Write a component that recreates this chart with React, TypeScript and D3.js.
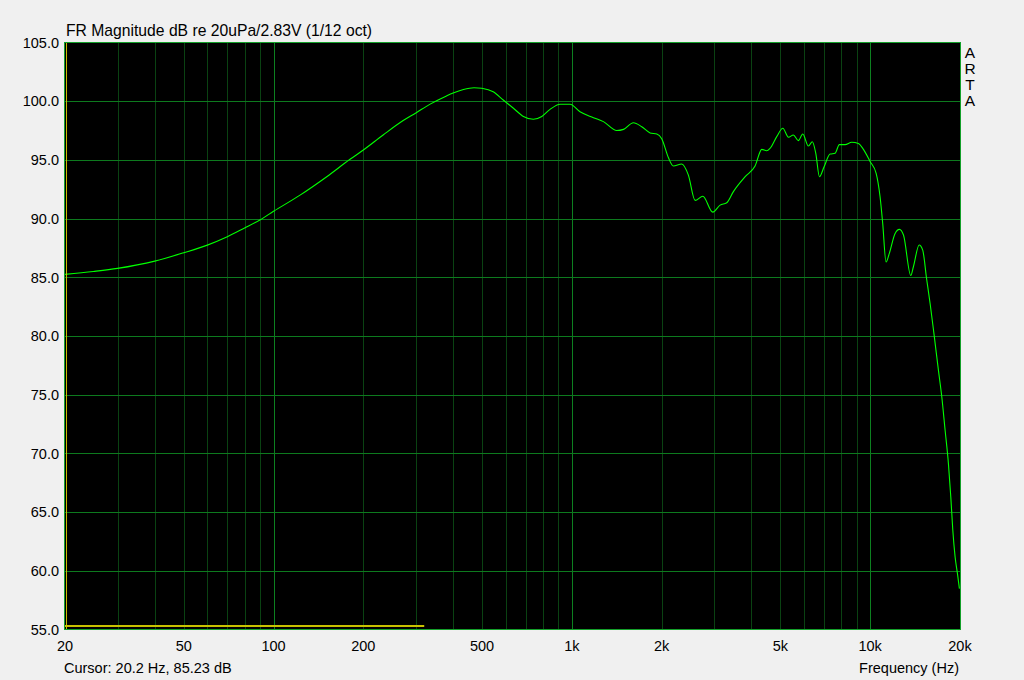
import React from "react";
import * as d3 from "d3";

// Frequency response (Hz, dB SPL)
const freqs = [
  20, 24.9, 30, 40, 50, 60, 70, 80, 90, 100, 122.7, 150.8, 180.5, 200, 233, 272, 300, 335, 380,
  400, 433, 470, 499, 545, 589, 637, 688, 743, 793, 845, 913, 986, 1065, 1181, 1276, 1414,
  1490, 1608, 1715, 1829, 1927, 2001, 2106, 2188, 2335, 2458, 2589, 2748, 2967, 3140, 3305,
  3479, 3810, 4112, 4333, 4495, 4615, 4861, 5095, 5321, 5528, 5743, 5942, 6207, 6399, 6571,
  6759, 7007, 7338, 7622, 7883, 8240, 8671, 9131, 9491, 10000, 10470, 10792, 11013, 11300,
  11590, 12120, 12530, 12930, 13680, 13960, 14590, 15000, 15450, 15880, 16380, 16930, 17380,
  17830, 18290, 18630, 18920, 19260, 19610, 19910,
];
const levels = [
  85.25, 85.5, 85.76, 86.38, 87.09, 87.74, 88.45, 89.2, 89.88, 90.62, 92.0, 93.57, 95.05, 95.84,
  97.12, 98.35, 99.0, 99.75, 100.45, 100.7, 101.0, 101.15, 101.1, 100.8, 100.1, 99.4, 98.7,
  98.46, 98.7, 99.3, 99.74, 99.74, 99.1, 98.6, 98.26, 97.5, 97.6, 98.17, 97.83, 97.3, 97.2,
  96.8, 95.2, 94.48, 94.65, 93.7, 91.55, 91.9, 90.55, 91.15, 91.35, 92.3, 93.57, 94.48, 95.9,
  95.78, 95.98, 96.98, 97.69, 96.93, 97.12, 96.64, 97.2, 96.18, 96.55, 95.56, 93.57, 94.42,
  95.5, 95.56, 96.3, 96.3, 96.5, 96.4, 95.9, 94.85, 93.86, 91.86, 89.6, 86.3, 87.04, 88.74,
  89.08, 88.6, 85.15, 85.9, 87.75, 87.32, 84.9, 82.77, 80.07, 77.09, 74.8, 71.97, 69.13, 66.29,
  63.45, 61.17, 59.76, 58.48,
];

const yTicks = [55, 60, 65, 70, 75, 80, 85, 90, 95, 100, 105];
const xTickValues = [20, 50, 100, 200, 500, 1000, 2000, 5000, 10000, 20000];
const xTickLabels = ["20", "50", "100", "200", "500", "1k", "2k", "5k", "10k", "20k"];
const minorGridFreqs = [
  30, 40, 50, 60, 70, 80, 90, 200, 300, 400, 500, 600, 700, 800, 900, 2000, 3000, 4000, 5000,
  6000, 7000, 8000, 9000,
];
const majorGridFreqs = [100, 1000, 10000];
const cursorFreq = 20.2;
const bandEndFreq = 320;
const titleText = "FR Magnitude dB re 20uPa/2.83V (1/12 oct)";
const cursorText = "Cursor: 20.2 Hz, 85.23 dB";
const xAxisTitle = "Frequency (Hz)";
const brandLetters = ["A", "R", "T", "A"];

const W = 1024;
const H = 680;
const L = 65;
const R = 960;
const T = 42.5;
const B = 629.5;

export default function App() {
  const x = d3.scaleLog().domain([20, 20000]).range([L, R]);
  const y = d3.scaleLinear().domain([55, 105]).range([B, T]);
  const data = freqs.map((f, i) => [f, levels[i]] as [number, number]);
  const line = d3
    .line<[number, number]>()
    .x((d) => x(d[0]))
    .y((d) => y(d[1]))
    .curve(d3.curveMonotoneX);
  const px = (v: number) => Math.round(v) + 0.5;
  const font = "'Liberation Sans', Arial, sans-serif";

  return (
    <svg
      width={W}
      height={H}
      style={{ position: "absolute", left: 0, top: 0, display: "block" }}
      fontFamily={font}
    >
      <rect x={0} y={0} width={W} height={H} fill="#f0f0f0" />
      <rect x={px(L) - 1} y={T} width={R - L + 1} height={B - T} fill="#000" />
      {minorGridFreqs.map((f) => (
        <line key={"mg" + f} x1={px(x(f))} x2={px(x(f))} y1={T} y2={B} stroke="#0a4212" strokeWidth={1} />
      ))}
      {majorGridFreqs.map((f) => (
        <line key={"Mg" + f} x1={px(x(f))} x2={px(x(f))} y1={T} y2={B} stroke="#0d8020" strokeWidth={1} />
      ))}
      {yTicks.slice(1, -1).map((v) => (
        <line key={"h" + v} x1={L} x2={R} y1={px(y(v))} y2={px(y(v))} stroke="#0d7a1e" strokeWidth={1} />
      ))}
      <line
        x1={L}
        x2={x(bandEndFreq)}
        y1={y(55) - 3.5}
        y2={y(55) - 3.5}
        stroke="#c8c000"
        strokeWidth={2}
      />
      <path d={line(data) || ""} fill="none" stroke="#00ff00" strokeWidth={1.1} />
      <rect
        x={px(L) - 1}
        y={T}
        width={R - L + 1}
        height={B - T}
        fill="none"
        stroke="#14a02a"
        strokeWidth={1}
      />
      <line x1={px(x(cursorFreq))} x2={px(x(cursorFreq))} y1={T + 0.5} y2={B - 0.5} stroke="#c8c000" strokeWidth={1} />
      {yTicks.map((v) => (
        <text key={"yl" + v} x={59} y={y(v)} dy="0.36em" textAnchor="end" fontSize={14.5} fill="#000">
          {v.toFixed(1)}
        </text>
      ))}
      {xTickValues.map((v, i) => (
        <text key={"xl" + v} x={x(v)} y={646} dy="0.36em" textAnchor="middle" fontSize={14.5} fill="#000">
          {xTickLabels[i]}
        </text>
      ))}
      <text x={66} y={36} fontSize={15.7} fill="#000">
        {titleText}
      </text>
      <text x={64} y={668} dy="0.36em" fontSize={14.5} fill="#000">
        {cursorText}
      </text>
      <text x={959} y={668} dy="0.36em" textAnchor="end" fontSize={14.5} fill="#000">
        {xAxisTitle}
      </text>
      {brandLetters.map((c, i) => (
        <text key={"b" + i} x={970} y={52 + i * 16} dy="0.36em" textAnchor="middle" fontSize={15.5} fill="#000">
          {c}
        </text>
      ))}
    </svg>
  );
}
